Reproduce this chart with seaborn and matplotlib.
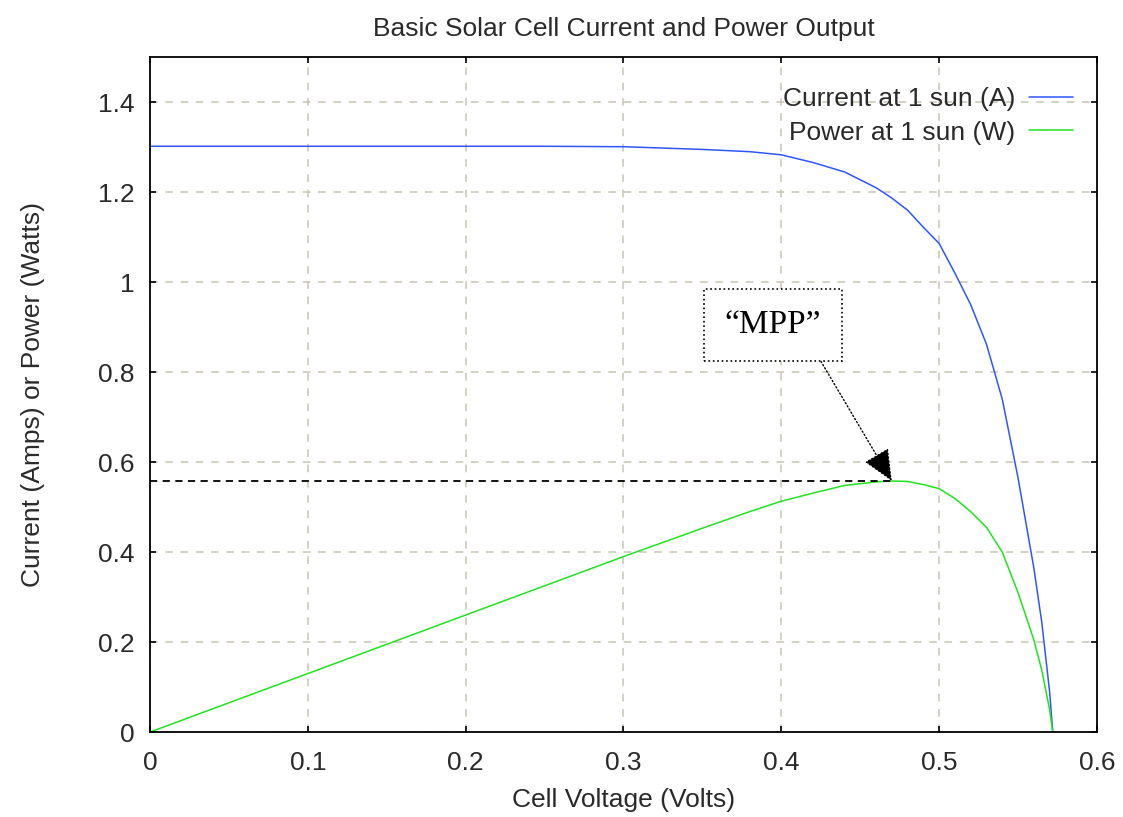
import matplotlib
matplotlib.use("Agg")
import matplotlib.pyplot as plt
import seaborn as sns
import pandas as pd
import numpy as np

# ---- data ----
voltage = [0.0, 0.05, 0.10, 0.15, 0.20, 0.25, 0.30, 0.35, 0.38, 0.40, 0.42, 0.44,
           0.46, 0.47, 0.48, 0.49, 0.50, 0.51, 0.52, 0.53, 0.54, 0.55, 0.56,
           0.565, 0.57, 0.572]
current = [1.302, 1.302, 1.302, 1.302, 1.302, 1.302, 1.301, 1.295, 1.290, 1.283,
           1.266, 1.245, 1.210, 1.187, 1.160, 1.122, 1.086, 1.020, 0.950, 0.862,
           0.740, 0.565, 0.365, 0.245, 0.090, 0.0]
power = [0.0, 0.065, 0.130, 0.195, 0.260, 0.325, 0.390, 0.453, 0.490, 0.513,
         0.531, 0.548, 0.556, 0.558, 0.557, 0.550, 0.541, 0.519, 0.490, 0.455,
         0.400, 0.310, 0.205, 0.138, 0.050, 0.0]

series_labels = ["Current at 1 sun (A)", "Power at 1 sun (W)"]
title = "Basic Solar Cell Current and Power Output"
x_label = "Cell Voltage (Volts)"
y_label = "Current (Amps) or Power (Watts)"
x_ticks = [0, 0.1, 0.2, 0.3, 0.4, 0.5, 0.6]
x_tick_labels = ["0", "0.1", "0.2", "0.3", "0.4", "0.5", "0.6"]
y_ticks = [0, 0.2, 0.4, 0.6, 0.8, 1.0, 1.2, 1.4]
y_tick_labels = ["0", "0.2", "0.4", "0.6", "0.8", "1", "1.2", "1.4"]
mpp_text = "\u201cMPP\u201d"

df = pd.DataFrame({
    "voltage": voltage * 2,
    "value": current + power,
    "series": [series_labels[0]] * len(voltage) + [series_labels[1]] * len(voltage),
})

sns.set_theme(style="white")
plt.rcParams["font.family"] = ["Liberation Sans", "DejaVu Sans"]

FS = 19
TXT = "#2a2a2a"

fig = plt.figure(figsize=(11.23, 8.17), dpi=100)
ax = fig.add_axes([0.1336, 0.104, 0.8432, 0.826])

palette = {series_labels[0]: "#2f55ff", series_labels[1]: "#1fe31f"}
sns.lineplot(data=df, x="voltage", y="value", hue="series", palette=palette,
             linewidth=1.1, ax=ax, sort=False, estimator=None)

ax.set_xlim(0, 0.6)
ax.set_ylim(0, 1.5)
ax.set_xticks(x_ticks)
ax.set_xticklabels(x_tick_labels)
ax.set_yticks(y_ticks)
ax.set_yticklabels(y_tick_labels)

ax.grid(True, color="#c9c4b4", linestyle=(0, (5, 5)), linewidth=1.1)
ax.set_axisbelow(True)
for s in ax.spines.values():
    s.set_visible(True)
    s.set_color("black")
    s.set_linewidth(1.3)
ax.tick_params(direction="in", length=4, width=1.2, colors="black",
               top=True, right=True, bottom=True, left=True,
               labelsize=FS, labelcolor=TXT)
ax.tick_params(axis="x", pad=14)
ax.tick_params(axis="y", pad=11)

ax.set_title(title, fontsize=FS, color=TXT, pad=15)
ax.set_xlabel(x_label, fontsize=FS, color=TXT, labelpad=9)
ax.set_ylabel(y_label, fontsize=FS, color=TXT, labelpad=38)

# MPP line, derived from the power series
imax = int(np.argmax(power))
v_mpp, p_mpp = voltage[imax], power[imax]
ax.plot([0, v_mpp], [p_mpp, p_mpp], color="black", linestyle=(0, (4, 3)), linewidth=1.3)

ax.annotate(mpp_text, xy=(v_mpp, p_mpp), xytext=(0.3945, 0.905),
            textcoords="data", ha="center", va="center",
            fontsize=24, family=["Liberation Serif"], color="black",
            bbox=dict(boxstyle="square,pad=0.62", fc="white", ec="black",
                      ls=":", lw=1.2),
            arrowprops=dict(arrowstyle="-|>,head_length=0.9,head_width=0.4",
                            linestyle=":", color="black", lw=1.0,
                            mutation_scale=22, shrinkA=0, shrinkB=0,
                            relpos=(0.87, 0.0)))

leg = ax.legend(loc="upper right", bbox_to_anchor=(0.9858, 0.9713),
                frameon=False, markerfirst=False,
                fontsize=FS, handlelength=1.65, handletextpad=0.55,
                labelspacing=0.36, borderaxespad=0.0)
for t in leg.get_texts():
    t.set_color(TXT)

fig.savefig("out.png", dpi=100, facecolor="white")
